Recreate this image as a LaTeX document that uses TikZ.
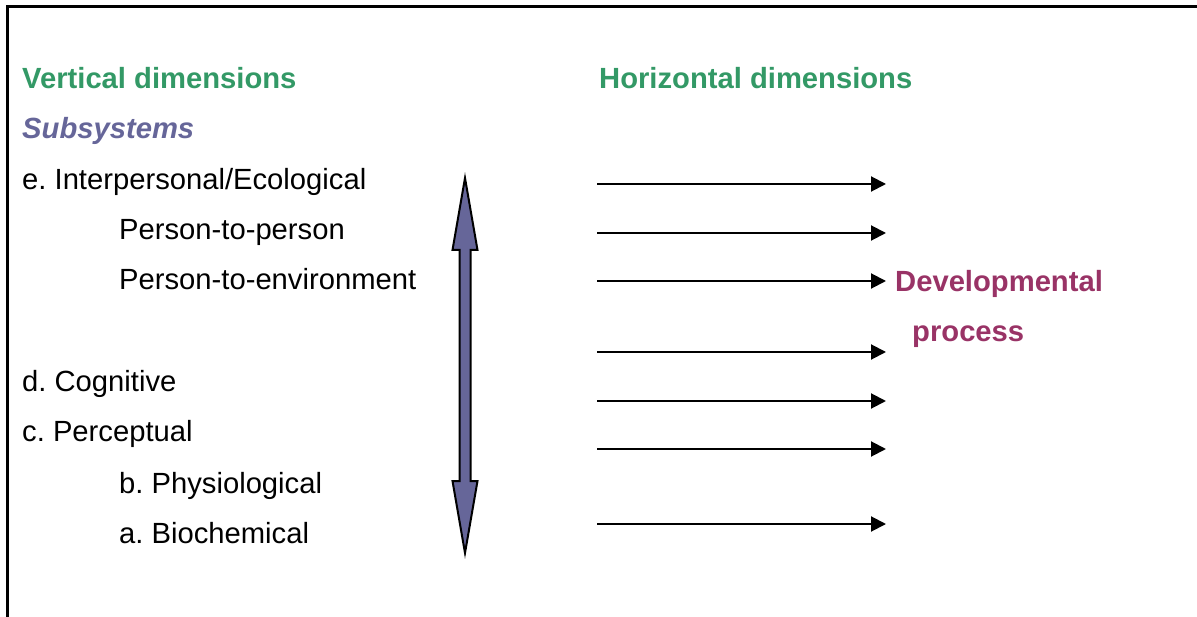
\documentclass[tikz,border=0pt]{standalone}
\usepackage{fontspec}
\setmainfont{Liberation Sans}
\usepackage{tikz}
\usetikzlibrary{arrows.meta}

\definecolor{dimgreen}{RGB}{51,153,102}
\definecolor{subblue}{RGB}{102,102,153}
\definecolor{devred}{RGB}{153,51,102}

\tikzset{
  lbl/.style={anchor=base west, inner sep=0pt, font=\fontsize{29.2}{35}\selectfont},
  head/.style={lbl, font=\fontsize{29.2}{35}\selectfont\bfseries, text=dimgreen},
  hor/.style={line width=2pt, -{Triangle[length=15pt,width=15pt]}},
}

\begin{document}
\frenchspacing
\begin{tikzpicture}[x=1pt,y=-1pt]
\useasboundingbox (0,0) rectangle (1197,617);

% frame (only top and left edges show)
\draw[line width=3pt] (7,617) -- (7,7) -- (1197,7);

% headings
\node[head] (vdim) at (22,89) {Vertical dimensions};
\node[head] (hdim) at (599,89) {Horizontal dimensions};
\node[lbl, font=\fontsize{29.2}{35}\selectfont\bfseries\itshape, text=subblue] (subs) at (22,139) {Subsystems};

% subsystems
\node[lbl] (inter) at (22,190) {e. Interpersonal/Ecological};
\node[lbl] (pp) at (119,240) {Person-to-person};
\node[lbl] (pe) at (119,290) {Person-to-environment};
\node[lbl] (cog) at (22,392) {d. Cognitive};
\node[lbl] (perc) at (22,442) {c. Perceptual};
\node[lbl] (phys) at (119,493) {b. Physiological};
\node[lbl] (bio) at (119,543) {a. Biochemical};

% vertical double arrow
\draw[line width=2pt, fill=subblue, line join=miter]
  (465,178) -- (477.5,250) -- (470.5,250) -- (470.5,481) -- (477.5,481)
  -- (465,553) -- (452.5,481) -- (459.5,481) -- (459.5,250) -- (452.5,250) -- cycle;

% horizontal arrows
\foreach \i/\y in {1/184,2/233,3/281,4/352,5/401,6/449,7/524}{
  \coordinate (s\i) at (597,\y);
  \coordinate (e\i) at (886,\y);
  \draw[hor] (s\i) -- (e\i);
}

\node[lbl, font=\fontsize{29.2}{35}\selectfont\bfseries, text=devred] (dev) at (895,292) {Developmental};
\node[lbl, font=\fontsize{29.2}{35}\selectfont\bfseries, text=devred] (proc) at (912,342) {process};
\end{tikzpicture}
\end{document}
